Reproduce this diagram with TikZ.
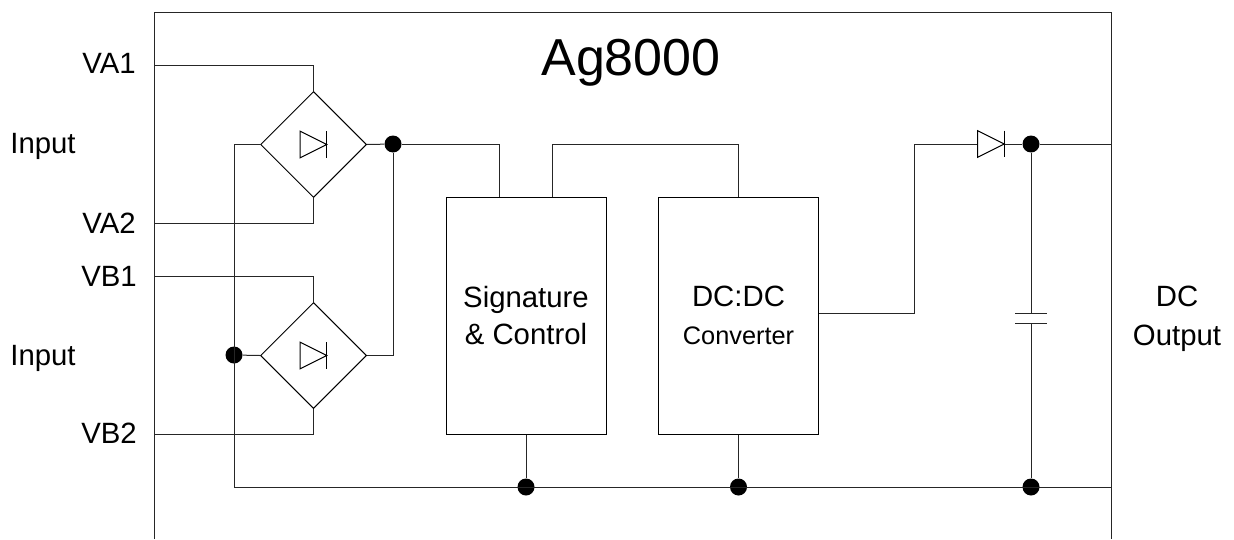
\documentclass[tikz,border=0pt]{standalone}
\usepackage{fontspec}
\setmainfont{Liberation Sans}
\usetikzlibrary{shapes.geometric, arrows}
\tikzstyle{block} = [rectangle, draw=black, line width=0.75pt, minimum width=120pt, minimum height=177.75pt, inner sep=0pt, align=center, font=\fontsize{22}{28}\selectfont]
\tikzstyle{bridge} = [diamond, draw=black, line width=0.75pt, minimum size=79.5pt, inner sep=0pt]
\tikzstyle{pin} = [font=\fontsize{22}{26}\selectfont, inner sep=0pt]
\tikzstyle{wire} = [line width=0.75pt, black!85]
\tikzstyle{joint} = [circle, fill=black, minimum size=12.75pt, inner sep=0pt]
\newcommand{\diodeat}[1]{
    \draw [line width=0.75pt] ([xshift=-10pt]#1.center) -- ++(0,10pt) -- ([xshift=10pt]#1.center) -- ([xshift=-10pt,yshift=-10pt]#1.center) -- cycle;
    \draw [line width=0.75pt] ([xshift=10pt,yshift=10pt]#1.center) -- ([xshift=10pt,yshift=-10pt]#1.center);
}

\begin{document}
\begin{tikzpicture}[x=0.75pt, y=-0.75pt]
        \useasboundingbox (0,0) rectangle (1234,539);
        % outer frame, open at the bottom
        \coordinate (frameBL) at (154,539);
        \coordinate (frameTL) at (154,12);
        \coordinate (frameTR) at (1111,12);
        \coordinate (frameBR) at (1111,539);
        \draw [wire] (frameBL) -- (frameTL) -- (frameTR) -- (frameBR);

        \node (title) [font=\fontsize{39}{44}\selectfont, inner sep=0pt] at (631,63) {Ag8000};

        \node (bridgeA) [bridge] at (313.5,144.5) {};
        \node (bridgeB) [bridge] at (313.5,355.5) {};
        \node (sigctl) [block] at (526,315.5) {Signature\\\& Control};
        \node (dcdc) [block] at (738.5,315.5) {DC:DC\\{\fontsize{19}{24}\selectfont Converter}};
        \node (diode) [minimum width=20pt, inner sep=0pt] at (991,144) {};

        % terminals
        \node (lblA1) [pin] at (109,63) {VA1};
        \node (lblA2) [pin] at (109,223) {VA2};
        \node (lblB1) [pin] at (109,276) {VB1};
        \node (lblB2) [pin] at (109,433) {VB2};
        \node (inA) [pin] at (43,146) {Input};
        \node (inB) [pin] at (43,358) {Input};
        \node (outDC) [pin, align=center, font=\fontsize{22}{29}\selectfont] at (1177,319) {DC\\Output};
        \coordinate (pinA1) at (154,65);
        \coordinate (pinA2) at (154,223);
        \coordinate (pinB1) at (154,276);
        \coordinate (pinB2) at (154,434);
        \coordinate (outP) at (1111,144);
        \coordinate (outN) at (1111,487);

        % junctions
        \node (jPos) [joint] at (393,144) {};
        \node (jNeg) [joint] at (234,355) {};
        \node (jSig) [joint] at (526,487) {};
        \node (jDc) [joint] at (738.5,487) {};
        \node (jCapT) [joint] at (1031,144) {};
        \node (jCapB) [joint] at (1031,487) {};
        \coordinate (busL) at (234,487);
        \coordinate (dcOut) at (818.5,313);

        % capacitor plates
        \coordinate (capT) at (1031,313);
        \coordinate (capB) at (1031,323);
        \draw [wire] ([xshift=-12pt]capT) -- ([xshift=12pt]capT);
        \draw [wire] ([xshift=-12pt]capB) -- ([xshift=12pt]capB);

        \draw [wire] (pinA1) -| (bridgeA.north);
        \draw [wire] (pinA2) -| (bridgeA.south);
        \draw [wire] (pinB1) -| (bridgeB.north);
        \draw [wire] (pinB2) -| (bridgeB.south);
        \draw [wire] (bridgeA.west) -| (busL);
        \draw [wire] (bridgeB.west) -- (jNeg);
        \draw [wire] (bridgeA.east) -- (jPos);
        \draw [wire] (bridgeB.east) -| (jPos);
        \draw [wire] (jPos) -| ([xshift=-20pt]sigctl.north);
        \draw [wire] ([xshift=20pt]sigctl.north) |- (738.5,144) -- (dcdc.north);
        \draw [wire] (dcOut) -| (914,144) -- (diode.west);
        \draw [wire] (diode.east) -- (jCapT) -- (outP);
        \draw [wire] (jCapT) -- (capT);
        \draw [wire] (capB) -- (jCapB);
        \draw [wire] (busL) -- (outN);
        \draw [wire] (sigctl.south) -- (jSig);
        \draw [wire] (dcdc.south) -- (jDc);

        \diodeat{bridgeA}
        \diodeat{bridgeB}
        \diodeat{diode}
    \end{tikzpicture}
\end{document}
